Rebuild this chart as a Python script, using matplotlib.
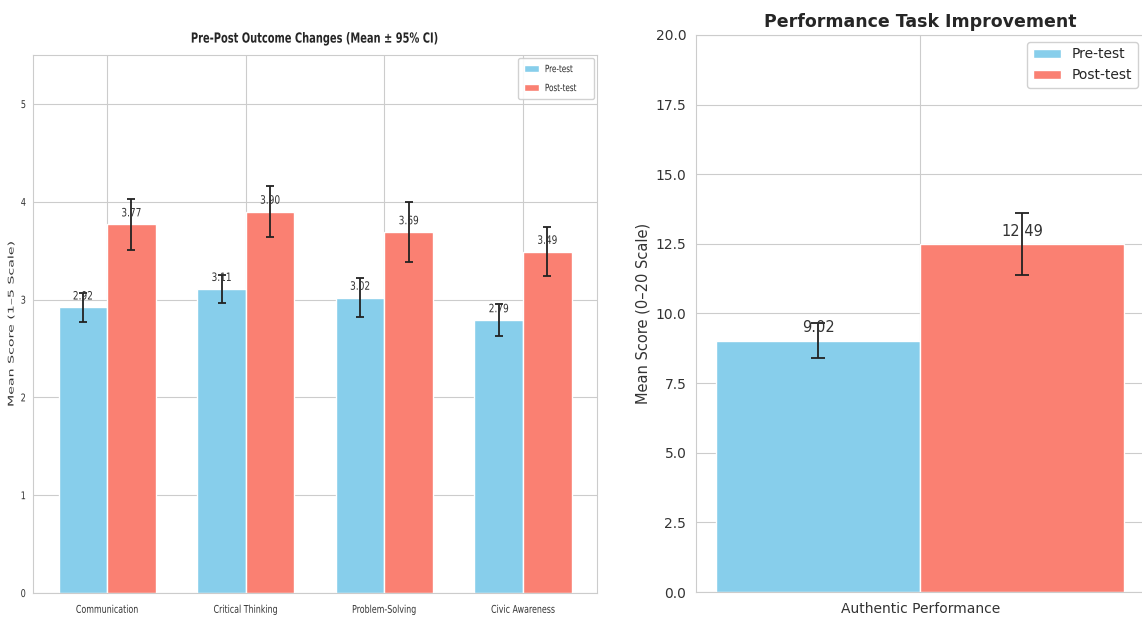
import matplotlib
matplotlib.use("Agg")
import matplotlib.pyplot as plt
import numpy as np
import seaborn as sns
from matplotlib.patheffects import AbstractPathEffect
from matplotlib.transforms import Affine2D

# Outcome measures (1-5 scale)
categories = ["Communication", "Critical Thinking", "Problem-Solving", "Civic Awareness"]
pre_means = [2.92, 3.11, 3.02, 2.79]
post_means = [3.77, 3.90, 3.69, 3.49]
pre_ci = [0.15, 0.14, 0.20, 0.16]
post_ci = [0.26, 0.26, 0.31, 0.25]

# Performance task (0-20 scale)
task_label = ["Authentic Performance"]
task_pre = [9.02]
task_post = [12.49]
task_pre_ci = [0.63]
task_post_ci = [1.10]

PRE_COLOR = "skyblue"
POST_COLOR = "salmon"


class HSqueeze(AbstractPathEffect):
    """Draw text condensed horizontally around a chosen anchor."""

    def __init__(self, factor, anchor="center"):
        super().__init__()
        self.factor = factor
        self.anchor = anchor

    def draw_path(self, renderer, gc, tpath, affine, rgbFace=None):
        ext = affine.transform_path(tpath).get_extents()
        if self.anchor == "left":
            x0 = ext.x0
        elif self.anchor == "right":
            x0 = ext.x1
        else:
            x0 = 0.5 * (ext.x0 + ext.x1)
        squeeze = Affine2D().translate(-x0, 0).scale(self.factor, 1.0).translate(x0, 0)
        renderer.draw_path(gc, tpath, affine + squeeze, rgbFace)


sns.set_style("whitegrid")
plt.rcParams["font.family"] = ["DejaVu Sans"]

fig = plt.figure(figsize=(11.42, 6.19), dpi=100)

# ---------- left panel: four outcomes ----------
ax1 = fig.add_axes([0.0289, 0.042, 0.494, 0.869])
x = np.arange(len(categories))
w = 0.35
ekw = dict(ecolor="#222222", elinewidth=1.3, capthick=1.3)
b1 = ax1.bar(x - w / 2, pre_means, w, yerr=pre_ci, capsize=3, color=PRE_COLOR,
             label="Pre-test", error_kw=ekw)
b2 = ax1.bar(x + w / 2, post_means, w, yerr=post_ci, capsize=3, color=POST_COLOR,
             label="Post-test", error_kw=ekw)
for bars in (b1, b2):
    for rect in bars:
        h = rect.get_height()
        t = ax1.text(rect.get_x() + rect.get_width() / 2, h + 0.05, f"{h:.2f}",
                     ha="center", va="bottom", fontsize=8.3, color="#333333")
        t.set_path_effects([HSqueeze(0.78)])
ax1.set_ylim(0, 5.5)
ax1.set_yticks([0, 1, 2, 3, 4, 5])
ax1.set_xticks(x)
ax1.set_xticklabels(categories, fontsize=7.7, color="#333333")
ax1.tick_params(axis="y", labelsize=7.7, labelcolor="#333333", pad=1.5)
ax1.tick_params(axis="x", pad=5)
for lab in ax1.get_xticklabels():
    lab.set_path_effects([HSqueeze(0.74)])
for lab in ax1.get_yticklabels():
    lab.set_path_effects([HSqueeze(0.76, "right")])
ax1.set_ylabel("Mean Score (1–5 Scale)", fontsize=10.2, color="#333333", labelpad=0.5)
ax1.yaxis.label.set_path_effects([HSqueeze(0.55)])
ax1.set_title("Pre-Post Outcome Changes (Mean ± 95% CI)",
              fontsize=10, fontweight="bold", pad=9)
ax1.title.set_path_effects([HSqueeze(0.71)])
leg1 = ax1.legend(loc="upper right", fontsize=7.2, framealpha=0.9,
                  handlelength=1.5, handletextpad=0.6, borderpad=0.6,
                  labelspacing=0.9, borderaxespad=0.3)
for t in leg1.get_texts():
    t.set_path_effects([HSqueeze(0.72, "left")])

# ---------- right panel: performance task ----------
ax2 = fig.add_axes([0.6095, 0.0436, 0.393, 0.900])
xt = np.arange(len(task_label))
wt = 0.4
ekw2 = dict(ecolor="#222222", elinewidth=1.3, capthick=1.3)
c1 = ax2.bar(xt - wt / 2, task_pre, wt, yerr=task_pre_ci, capsize=5, color=PRE_COLOR,
             label="Pre-test", error_kw=ekw2)
c2 = ax2.bar(xt + wt / 2, task_post, wt, yerr=task_post_ci, capsize=5, color=POST_COLOR,
             label="Post-test", error_kw=ekw2)
for bars in (c1, c2):
    for rect in bars:
        h = rect.get_height()
        ax2.text(rect.get_x() + rect.get_width() / 2, h + 0.2, f"{h:.2f}",
                 ha="center", va="bottom", fontsize=10.5, color="#333333")
ax2.set_ylim(0, 20)
ax2.set_xticks(xt)
ax2.set_xticklabels(task_label, fontsize=10, color="#333333")
ax2.tick_params(axis="y", labelsize=10, labelcolor="#333333")
ax2.set_ylabel("Mean Score (0–20 Scale)", fontsize=10.5, color="#333333")
ax2.set_title("Performance Task Improvement", fontsize=12.5, fontweight="bold", pad=6)
ax2.legend(loc="upper right", fontsize=10, framealpha=0.9)

fig.savefig("out.png", dpi=100)
